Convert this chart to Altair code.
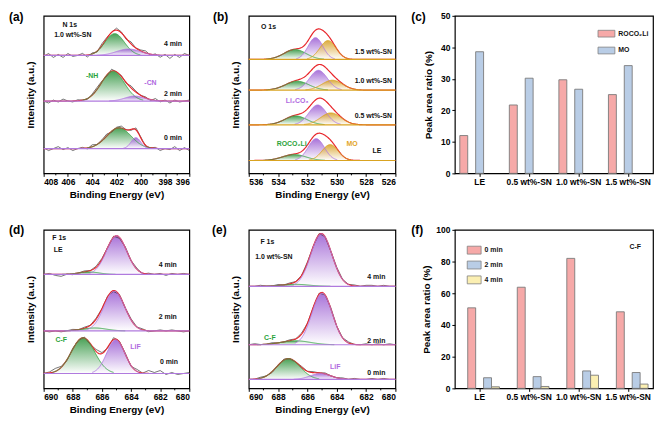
import altair as alt
import numpy as np
import pandas as pd

alt.data_transformers.disable_max_rows()

FONT = "Liberation Sans"
RED = "#e8262b"
RAW = "#3c3c3c"
BLACK = "#111111"
GREEN_L, GREEN_F, GREEN_T = "#38a347", "#1c8a2c", "#2aa33a"
PURPLE_L, PURPLE_F, PURPLE_T = "#b07ade", "#9350cf", "#b068e0"
ORANGE_L, ORANGE_F, ORANGE_T = "#d9a321", "#d39812", "#e2a526"

# ---------------- (a) N 1s, 1.0 wt%-SN ----------------
A_SPECTRA = ["0 min", "2 min", "4 min"]
A_BASE = [25, 73, 119]
A_PEAKS = [  # spectrum, component, centre (eV), height, sigma (eV)
    ("0 min", "NH", 401.8, 21, 1.0),
    ("0 min", "CN", 400.4, 11, 0.4),
    ("2 min", "NH", 402.3, 30, 0.95),
    ("2 min", "CN", 400.5, 5, 0.8),
    ("4 min", "NH", 402.15, 22, 0.8),
    ("4 min", "CN", 401.0, 6.5, 1.0),
]
A_RAW_0 = [1, -2, 0, 2, -1, 1, -2, 0, 1, -1, 2, 0, 1, 2, -1, 1, 2, 0, -1, 2, 1, -1, 0, 1, -2, 0, -1, 2, -2, 1, -2]
A_RAW_2 = [0, -2, 1, -1, 2, 0, -1, 1, 0, -1, 1, 2, 1, -1, 2, 0, 1, -1, 2, 1, 0, 1, -1, 2, -1, 1, -2, 1, -1, 0, 1]
A_RAW_4 = [-1, 2, -2, 1, -2, 2, -1, 0, 2, -2, 1, -1, 2, 1, 0, 2, 1, -1, 2, 0, 1, 2, -1, 1, -2, 1, -3, 1, -2, 2, 0]
A_TEXT = [("N 1s", 405.85, 150, BLACK), ("1.0 wt%-SN", 405.6, 140, BLACK),
          ("4 min", 397.35, 131, BLACK), ("2 min", 397.35, 80, BLACK), ("0 min", 397.35, 36, BLACK),
          ("-NH", 404.0, 98, GREEN_T), ("-CN", 399.2, 91, PURPLE_T)]

# ---------------- (b) O 1s ----------------
B_SPECTRA = ["LE", "0.5 wt%-SN", "1.0 wt%-SN", "1.5 wt%-SN"]
B_BASE = [13, 49, 84, 115]
B_PEAKS = [
    ("LE", "ROCO", 532.9, 6, 0.8), ("LE", "LCO", 531.4, 22, 0.55), ("LE", "MO", 530.45, 16, 0.55),
    ("0.5 wt%-SN", "ROCO", 532.8, 9, 0.75), ("0.5 wt%-SN", "LCO", 531.3, 20, 0.6), ("0.5 wt%-SN", "MO", 530.4, 12, 0.7),
    ("1.0 wt%-SN", "ROCO", 532.7, 9, 0.8), ("1.0 wt%-SN", "LCO", 531.25, 20, 0.6), ("1.0 wt%-SN", "MO", 530.3, 10, 0.7),
    ("1.5 wt%-SN", "ROCO", 532.85, 10, 0.75), ("1.5 wt%-SN", "LCO", 531.45, 22, 0.5), ("1.5 wt%-SN", "MO", 530.6, 19, 0.55),
]
B_TEXT = [("O 1s", 534.65, 148, BLACK), ("1.5 wt%-SN", 527.5, 122, BLACK), ("1.0 wt%-SN", 527.5, 93, BLACK),
          ("0.5 wt%-SN", 527.5, 58, BLACK), ("LE", 527.26, 23, BLACK),
          ("Li₂CO₃", 532.7, 73, PURPLE_T), ("ROCO₂Li", 533.07, 30, GREEN_T), ("MO", 528.96, 30, ORANGE_T)]

# ---------------- (c) O 1s peak ratios ----------------
C_CATS = ["LE", "0.5 wt%-SN", "1.0 wt%-SN", "1.5 wt%-SN"]
C_SERIES = ["ROCO₂Li", "MO"]
C_ROCO = [12.0, 21.7, 29.7, 25.0]
C_MO = [38.6, 30.2, 26.7, 34.2]

# ---------------- (d) F 1s, LE ----------------
D_SPECTRA = ["0 min", "2 min", "4 min"]
D_BASE = [15, 58, 115]
D_PEAKS = [
    ("0 min", "CF", 687.3, 36, 0.8), ("0 min", "LiF", 685.05, 34, 0.62),
    ("2 min", "CF", 686.5, 3, 0.8), ("2 min", "LiF", 685.15, 40, 0.72),
    ("4 min", "CF", 686.9, 2.5, 0.7), ("4 min", "LiF", 685.0, 39, 0.7),
]
D_RAW_0 = [0, 1, 3, 1, -1, 1, 0, 1, -1, 2, 1, -1, 2, 1, 1, -1, 2, 0, 3, 1, 3, -1, 1, -1, 0, 1]
D_RAW_2 = [0, -1, 0, -1, 0, 1, 0, 1, 0, 1, 0, 1, -1, 1, 0, 1, 0, 1, -1, 0, 1, 0, 1, 0, -1, 0]
D_RAW_4 = [0, 1, -1, -2, 0, -1, 0, 1, 0, 1, 1, 0, 1, -1, 1, 0, 1, -1, 1, 0, 1, -1, 1, 0, 1, 0]
D_TEXT = [("F 1s", 688.93, 152, BLACK), ("LE", 689.0, 140, BLACK),
          ("4 min", 681.48, 125, BLACK), ("2 min", 681.48, 72, BLACK), ("0 min", 681.4, 27, BLACK),
          ("C-F", 688.8, 49, GREEN_T), ("LiF", 683.7, 42, PURPLE_T)]

# ---------------- (e) F 1s, 1.0 wt%-SN ----------------
E_SPECTRA = ["0 min", "2 min", "4 min"]
E_BASE = [9, 44, 103]
E_PEAKS = [
    ("0 min", "CF", 687.3, 21, 0.8), ("0 min", "LiF", 685.1, 6, 0.7),
    ("2 min", "CF", 686.8, 4, 1.0), ("2 min", "LiF", 685.0, 52, 0.7),
    ("4 min", "CF", 686.8, 2, 0.9), ("4 min", "LiF", 685.05, 53, 0.72),
]
E_RAW_0 = [0, 0, 1, 0, -1, 0, 1, 0, 0, 1, 0, 1, 0, 1, 0, 0, 1, 0, 1, 0, 0, 1, 0, 1, 0, 0]
E_RAW_2 = [0, 1, 0, 0, 1, 0, 0, 1, 0, 1, 0, 0, 1, 0, 1, 0, 0, 1, 0, 0, 1, 0, 1, 0, 1, 0]
E_RAW_4 = [0, 0, 1, 0, 0, 1, 0, 1, 0, 0, 1, 0, 1, 0, 0, 1, 0, 0, 1, 0, 1, 1, 0, 1, 0, 0]
E_TEXT = [("F 1s", 688.73, 148, BLACK), ("1.0 wt%-SN", 688.29, 133, BLACK),
          ("4 min", 681.3, 112, BLACK), ("2 min", 681.3, 48, BLACK), ("0 min", 681.3, 16, BLACK),
          ("C-F", 688.56, 51, GREEN_T), ("LiF", 684.1, 22, PURPLE_T)]

# ---------------- (f) C-F peak ratios ----------------
F_CATS = ["LE", "0.5 wt%-SN", "1.0 wt%-SN", "1.5 wt%-SN"]
F_SERIES = ["0 min", "2 min", "4 min"]
F_0 = [50.8, 63.8, 82.0, 48.3]
F_2 = [6.7, 7.4, 11.0, 10.0]
F_4 = [1.0, 1.2, 8.3, 2.7]

PINK, BLUE, YELLOW = "#f6a9a8", "#b9cde6", "#fbefb2"

LAB = dict(font=FONT, fontWeight="bold", fontSize=12, color="black", align="left", baseline="top")


def gauss(x, c, h, s):
    return h * np.exp(-0.5 * ((x - c) / s) ** 2)


def spec_panel(lo, hi, ticks, minor, spectra, bases, peaks, styles, raws, texts,
               label, lab_x, lab_y, W, H, base_color):
    grid = np.round(np.linspace(lo, hi, 301), 4)
    xs = alt.Scale(domain=[lo, hi], reverse=True, nice=False, zero=False)
    ys = alt.Scale(domain=[0, H], nice=False, zero=False)
    xax = alt.Axis(values=ticks, format="d", tickSize=3, labelPadding=1,
                   title="Binding Energy (eV)", titlePadding=4)
    yax = alt.Axis(labels=False, ticks=False, title="Intensity (a.u.)", titlePadding=8)
    X = alt.X("E:Q", scale=xs, axis=xax)
    Y = alt.Y("y:Q", scale=ys, axis=yax)

    comp_rows, env_rows, base_rows, raw_rows = [], [], [], []
    for s, b in zip(spectra, bases):
        total = np.zeros_like(grid)
        for (sp, comp, c, h, w) in peaks:
            if sp != s:
                continue
            g = gauss(grid, c, h, w)
            total += g
            for e, v in zip(grid, g):
                if v > 0.03 * h:
                    comp_rows.append(dict(spec=s, comp=comp, E=e, y=b + v, y0=b))
        for e, v in zip(grid, total):
            env_rows.append(dict(spec=s, E=e, y=b + v))
        base_rows += [dict(spec=s, E=lo, y=b), dict(spec=s, E=hi, y=b)]
        if raws is not None:
            noise = raws[s]
            for i, n in enumerate(noise):
                e = hi - 0.4 * i
                v = sum(gauss(e, c, h, w) for (sp, comp, c, h, w) in peaks if sp == s)
                raw_rows.append(dict(spec=s, E=round(e, 3), y=b + v + n))
    comp_df = pd.DataFrame(comp_rows)
    layers = []
    for comp, (lc, fc) in styles.items():
        df = comp_df[comp_df.comp == comp]
        grad = alt.Gradient(gradient="linear",
                            stops=[alt.GradientStop(color=fc, offset=0),
                                   alt.GradientStop(color="#ffffff", offset=1)],
                            x1=0, x2=0, y1=0, y2=1)
        layers.append(alt.Chart(df).mark_area(color=grad, opacity=0.8).encode(
            x=X, y=Y, y2="y0:Q", detail="spec:N"))
    if raw_rows:
        layers.append(alt.Chart(pd.DataFrame(raw_rows)).mark_line(color=RAW, strokeWidth=0.7).encode(
            x=X, y=Y, detail="spec:N"))
    layers.append(alt.Chart(pd.DataFrame(env_rows)).mark_line(color=RED, strokeWidth=1.2).encode(
        x=X, y=Y, detail="spec:N"))
    for comp, (lc, fc) in styles.items():
        df = comp_df[comp_df.comp == comp]
        layers.append(alt.Chart(df).mark_line(color=lc, strokeWidth=0.9).encode(
            x=X, y=Y, detail="spec:N"))
    layers.append(alt.Chart(pd.DataFrame(base_rows)).mark_line(color=base_color, strokeWidth=1.2).encode(
        x=X, y=Y, detail="spec:N"))
    tdf = pd.DataFrame(texts, columns=["t", "E", "y", "col"])
    layers.append(alt.Chart(tdf).mark_text(font=FONT, fontWeight="bold", fontSize=7).encode(
        x=X, y=Y, text="t:N", color=alt.Color("col:N", scale=None)))
    mdf = pd.DataFrame({"E": minor})
    layers.append(alt.Chart(mdf).mark_rule(color="black", strokeWidth=1).encode(
        x=X, y=alt.value(H), y2=alt.value(H + 2)))
    layers.append(alt.Chart(pd.DataFrame({"t": [label]})).mark_text(**LAB).encode(
        text="t:N", x=alt.value(lab_x), y=alt.value(lab_y)))
    return alt.layer(*layers).properties(width=W, height=H)


def bar_panel(cats, series, table, colors, ydom, yticks, W, H, legend, note, label, lab_x, lab_y, tpad):
    rows = []
    for ser, vals in zip(series, table):
        for c, v in zip(cats, vals):
            rows.append(dict(cat=c, ser=ser, v=v))
    df = pd.DataFrame(rows)
    bars = alt.Chart(df).mark_bar(stroke="#7a7a7a", strokeWidth=0.9).encode(
        x=alt.X("cat:N", sort=cats, scale=alt.Scale(paddingInner=0.2, paddingOuter=0.1),
                axis=alt.Axis(title=None, labelAngle=0, tickSize=3, labelPadding=1)),
        xOffset=alt.XOffset("ser:N", sort=series, scale=alt.Scale(paddingInner=0, paddingOuter=0)),
        y=alt.Y("v:Q", scale=alt.Scale(domain=ydom, nice=False),
                axis=alt.Axis(values=yticks, tickSize=3, labelPadding=2,
                              title="Peak area ratio (%)", titlePadding=tpad)),
        color=alt.Color("ser:N", sort=series, scale=alt.Scale(domain=series, range=colors), legend=legend),
    )
    layers = [bars]
    if note is not None:
        layers.append(alt.Chart(pd.DataFrame({"t": [note[0]]})).mark_text(
            font=FONT, fontWeight="bold", fontSize=7, color=BLACK).encode(
            text="t:N", x=alt.value(note[1]), y=alt.value(note[2])))
    layers.append(alt.Chart(pd.DataFrame({"t": [label]})).mark_text(**LAB).encode(
        text="t:N", x=alt.value(lab_x), y=alt.value(lab_y)))
    return alt.layer(*layers).properties(width=W, height=H)


def legend(x, y, path, size, row_pad):
    return alt.Legend(orient="none", legendX=x, legendY=y, title=None, symbolType=path,
                      symbolSize=size, symbolStrokeColor="#808080", symbolStrokeWidth=0.8,
                      symbolOpacity=1, labelFont=FONT, labelFontSize=7, labelFontWeight="bold",
                      labelColor=BLACK, labelOffset=3, rowPadding=row_pad, padding=0)


TOP_H, BOT_H = 159, 160
WA, WB, WC = 147, 148, 200

pa = spec_panel(396, 408, list(range(396, 409, 2)), list(range(397, 408, 2)),
                A_SPECTRA, A_BASE, A_PEAKS,
                {"NH": (GREEN_L, GREEN_F), "CN": (PURPLE_L, PURPLE_F)},
                {"0 min": A_RAW_0, "2 min": A_RAW_2, "4 min": A_RAW_4},
                A_TEXT, "(a)", -35, -4, WA, TOP_H, PURPLE_L)
pb = spec_panel(526, 536, list(range(526, 537, 2)), list(range(527, 536, 2)),
                B_SPECTRA, B_BASE, B_PEAKS,
                {"ROCO": (GREEN_L, GREEN_F), "LCO": (PURPLE_L, PURPLE_F), "MO": (ORANGE_L, ORANGE_F)},
                None, B_TEXT, "(b)", -36, -4, WB, TOP_H, ORANGE_L)
pc = bar_panel(C_CATS, C_SERIES, [C_ROCO, C_MO], [PINK, BLUE], [0, 50], [0, 10, 20, 30, 40, 50],
               WC, TOP_H, legend(144, 9, "M-1,-0.4H1V0.4H-1Z", 289, 3), None, "(c)", -44, -4, 7)
pd_ = spec_panel(680, 690, list(range(680, 691, 2)), list(range(681, 690, 2)),
                 D_SPECTRA, D_BASE, D_PEAKS,
                 {"CF": (GREEN_L, GREEN_F), "LiF": (PURPLE_L, PURPLE_F)},
                 {"0 min": D_RAW_0, "2 min": D_RAW_2, "4 min": D_RAW_4},
                 D_TEXT, "(d)", -35, -5, WA, BOT_H, PURPLE_L)
pe = spec_panel(680, 690, list(range(680, 691, 2)), list(range(681, 690, 2)),
                E_SPECTRA, E_BASE, E_PEAKS,
                {"CF": (GREEN_L, GREEN_F), "LiF": (PURPLE_L, PURPLE_F)},
                {"0 min": E_RAW_0, "2 min": E_RAW_2, "4 min": E_RAW_4},
                E_TEXT, "(e)", -37, -5, WB, BOT_H, PURPLE_L)
pf = bar_panel(F_CATS, F_SERIES, [F_0, F_2, F_4], [PINK, BLUE, YELLOW], [0, 100], [0, 20, 40, 60, 80, 100],
               WC, BOT_H, legend(12, 13, "M-1,-0.57H1V0.57H-1Z", 196, 1), ("C-F", 182, 17), "(f)", -44, -5, 4)

chart = alt.concat(pa, pb, pc, pd_, pe, pf, columns=3, spacing={"row": 57, "column": 60},
                   bounds="flush").resolve_scale(x="independent", y="independent", color="independent")

chart = chart.properties(padding={"left": 0, "top": 0, "right": 0, "bottom": 0}, background="white").configure_axis(
    labelFont=FONT, titleFont=FONT, labelColor="black", titleColor="black", tickColor="black",
    labelFontWeight="bold", titleFontWeight="bold", labelFontSize=8.5, titleFontSize=10,
    grid=False, domain=False, tickWidth=1
).configure_view(stroke="black", strokeWidth=1.2).configure_text(font=FONT)

chart.save("out.html", embed_options={"renderer": "svg", "actions": False})
